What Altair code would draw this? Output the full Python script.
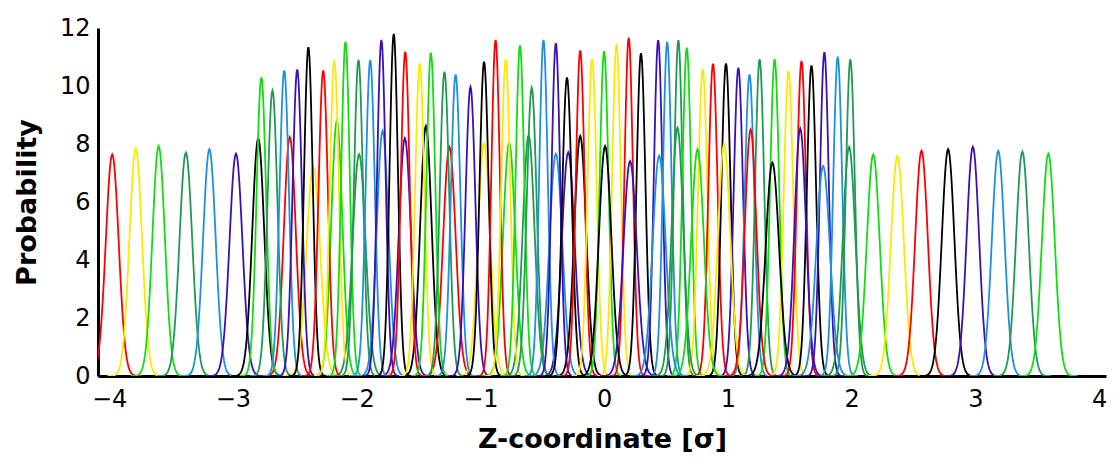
import altair as alt
import numpy as np
import pandas as pd

# ---- peak data (centre in sigma units, peak height, colour) ----
outer_left_centers = [-3.975, -3.785, -3.60, -3.38, -3.19, -2.975, -2.795]
outer_left_heights = [7.64, 7.84, 7.93, 7.70, 7.82, 7.67, 8.20]
outer_left_colors = ["r", "y", "g", "dg", "b", "i", "k"]

short_left_centers = [-2.54, -2.35, -2.16, -1.98, -1.79, -1.61, -1.44, -1.25,
                      -0.97, -0.767, -0.61, -0.39, -0.29, -0.193]
short_left_heights = [8.24, 7.20, 8.80, 7.65, 8.45, 8.20, 8.62, 7.90,
                      8.02, 8.05, 8.30, 7.67, 7.72, 8.28]
short_left_colors = ["r", "y", "g", "dg", "b", "i", "k", "r",
                     "y", "g", "dg", "b", "i", "k"]

short_right_centers = [0.008, 0.21, 0.445, 0.593, 0.755, 0.97, 1.184,
                       1.36, 1.585, 1.77, 1.98]
short_right_heights = [7.93, 7.41, 7.60, 8.56, 7.82, 7.99, 8.50,
                       7.36, 8.54, 7.24, 7.90]
short_right_colors = ["k", "i", "b", "dg", "g", "y", "r",
                      "k", "i", "b", "dg"]

outer_right_centers = [2.175, 2.37, 2.565, 2.78, 2.98, 3.185, 3.38, 3.59]
outer_right_heights = [7.64, 7.60, 7.77, 7.82, 7.90, 7.76, 7.74, 7.67]
outer_right_colors = ["g", "y", "r", "k", "i", "b", "dg", "g"]

tall_centers = [-2.77, -2.68, -2.585, -2.48, -2.39, -2.27, -2.18, -2.09, -1.985,
                -1.89, -1.80, -1.70, -1.607, -1.49, -1.40, -1.29, -1.20, -1.08,
                -0.97, -0.877, -0.795, -0.68, -0.585, -0.49, -0.39, -0.30,
                -0.193, -0.097, 0.0, 0.10, 0.199, 0.298, 0.437, 0.51, 0.60,
                0.668, 0.797, 0.88, 0.985, 1.085, 1.175, 1.257, 1.378, 1.49,
                1.595, 1.676, 1.78, 1.888, 1.99]
tall_heights = [10.29, 9.85, 10.54, 10.57, 11.34, 10.54, 10.89, 11.53, 10.90,
                10.89, 11.59, 11.80, 11.18, 10.78, 11.15, 10.49, 10.40, 9.97,
                10.84, 11.59, 10.92, 11.40, 9.94, 11.59, 11.48, 10.29,
                11.23, 10.92, 11.20, 11.44, 11.67, 11.13, 11.58, 11.52, 11.58,
                11.32, 10.58, 10.77, 10.78, 10.63, 10.40, 10.92, 10.92, 10.52,
                10.86, 10.71, 11.17, 11.01, 10.92]
tall_colors = ["g", "dg", "b", "i", "k", "r", "y", "g", "dg",
               "b", "i", "k", "r", "y", "g", "dg", "b", "i",
               "k", "r", "y", "g", "dg", "b", "i", "k",
               "r", "y", "g", "y", "r", "k", "i", "b", "dg",
               "g", "y", "r", "k", "i", "b", "dg", "g", "y",
               "r", "k", "i", "b", "dg"]

color_keys = ["r", "y", "g", "dg", "b", "i", "k"]
color_hex = ["#ff0000", "#ffe800", "#11dd11", "#1f9a50", "#1e90e0", "#3a10b8", "#000000"]

x_ticks = [-4, -3, -2, -1, 0, 1, 2, 3, 4]
y_ticks = [0, 2, 4, 6, 8, 10, 12]

# ---- build the curve table: each window is a normalised Gaussian histogram ----
centers = outer_left_centers + short_left_centers + tall_centers + short_right_centers + outer_right_centers
heights = outer_left_heights + short_left_heights + tall_heights + short_right_heights + outer_right_heights
colors = outer_left_colors + short_left_colors + tall_colors + short_right_colors + outer_right_colors

rows = []
for pid, (c, h, col) in enumerate(zip(centers, heights, colors)):
    s = 1.0 / (h * np.sqrt(2 * np.pi))
    xs = np.linspace(c - 4.5 * s, c + 4.5 * s, 71)
    ys = h * np.exp(-0.5 * ((xs - c) / s) ** 2)
    for xv, yv in zip(xs, ys):
        rows.append({"z": float(xv), "p": float(yv), "peak": pid, "col": col})
df = pd.DataFrame(rows)

FONT = "DejaVu Sans"

chart = alt.Chart(df).mark_line(strokeWidth=1.8, clip=True).encode(
    x=alt.X("z:Q", scale=alt.Scale(domain=[-4.09, 4.056], nice=False, zero=False),
            axis=alt.Axis(title="Z-coordinate [σ]", values=x_ticks, format="d")),
    y=alt.Y("p:Q", scale=alt.Scale(domain=[0, 12], nice=False),
            axis=alt.Axis(title="Probability", values=y_ticks, format="d")),
    color=alt.Color("col:N", scale=alt.Scale(domain=color_keys, range=color_hex), legend=None),
    detail="peak:N",
    order=alt.Order("z:Q"),
).properties(
    width=1099, height=444,
    autosize=alt.AutoSizeParams(type="fit", contains="padding"),
    padding={"left": 5, "top": 8, "right": 0, "bottom": 0},
).configure_view(stroke=None).configure_axis(
    grid=False, ticks=False, domainColor="black", domainWidth=3,
    labelFont=FONT, labelFontSize=24, labelColor="black", labelPadding=8,
    titleFont=FONT, titleFontSize=27, titleFontWeight="bold", titleColor="black",
).configure_axisX(labelPadding=11, titlePadding=15).configure_axisY(titlePadding=18)

chart.save("out.html", embed_options={"renderer": "svg", "actions": False})
